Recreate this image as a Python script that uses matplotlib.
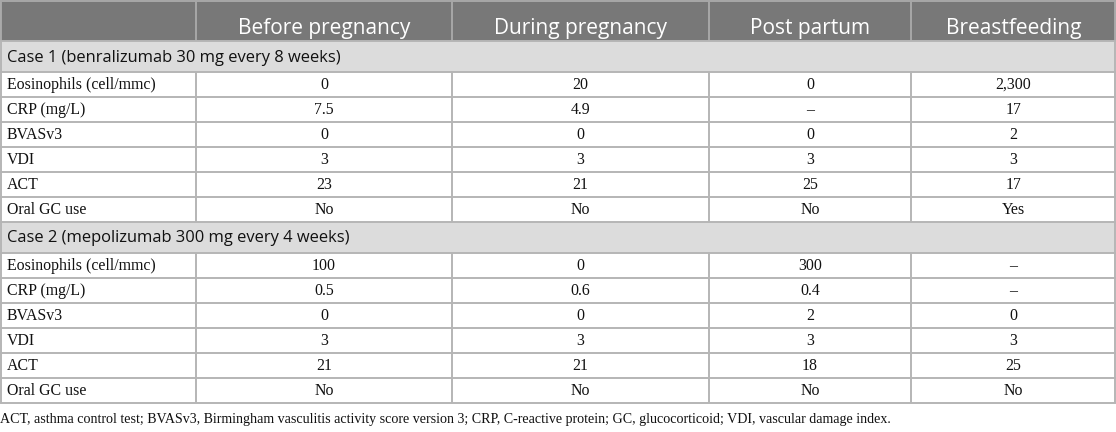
import matplotlib
matplotlib.use("Agg")
import matplotlib.pyplot as plt
from matplotlib.patches import Rectangle

# ---------------- data ----------------
columns = ["Before pregnancy", "During pregnancy", "Post partum", "Breastfeeding"]
row_labels = ["Eosinophils (cell/mmc)", "CRP (mg/L)", "BVASv3", "VDI", "ACT", "Oral GC use"]

case1_title = "Case 1 (benralizumab 30 mg every 8 weeks)"
case1_values = [
    ["0", "20", "0", "2,300"],
    ["7.5", "4.9", "\u2013", "17"],
    ["0", "0", "0", "2"],
    ["3", "3", "3", "3"],
    ["23", "21", "25", "17"],
    ["No", "No", "No", "Yes"],
]

case2_title = "Case 2 (mepolizumab 300 mg every 4 weeks)"
case2_values = [
    ["100", "0", "300", "\u2013"],
    ["0.5", "0.6", "0.4", "\u2013"],
    ["0", "0", "2", "0"],
    ["3", "3", "3", "3"],
    ["21", "21", "18", "25"],
    ["No", "No", "No", "No"],
]

footnote = ("ACT, asthma control test; BVASv3, Birmingham vasculitis activity score version 3; "
            "CRP, C-reactive protein; GC, glucocorticoid; VDI, vascular damage index.")

# ---------------- layout / style ----------------
W, H = 1116, 432
col_edges = [0, 196, 452, 709, 911, 1116]
header_h = 41
case_h = 31
row_h = 25

header_bg = "#787878"
case_bg = "#dcdcdc"
grid_c = "#b5b5b5"
header_sep = "#a8a8a8"
text_c = "#111111"
sans = ["Open Sans", "DejaVu Sans"]
serif = ["Liberation Serif", "DejaVu Serif"]

fig = plt.figure(figsize=(W / 100, H / 100), dpi=100)
ax = fig.add_axes([0, 0, 1, 1])
ax.set_xlim(0, W)
ax.set_ylim(H, 0)
ax.axis("off")

lw = 1.4
x0, x1 = col_edges[0] + 0.7, col_edges[-1] - 0.7
xs = [x0] + col_edges[1:-1] + [x1]

# header
ax.add_patch(Rectangle((x0, 0), x1 - x0, header_h, facecolor=header_bg, edgecolor="none"))
for i, name in enumerate(columns):
    cx = (col_edges[i + 1] + col_edges[i + 2]) / 2
    ax.text(cx, 34, name, ha="center", va="baseline", color="white",
            fontsize=15, family=sans)
for xe in xs:
    ax.plot([xe, xe], [0, header_h], color=header_sep, lw=lw, solid_capstyle="butt")
ax.plot([x0, x1], [0.7, 0.7], color=header_sep, lw=lw)

y = header_h
for title, values in [(case1_title, case1_values), (case2_title, case2_values)]:
    ax.add_patch(Rectangle((x0, y), x1 - x0, case_h, facecolor=case_bg, edgecolor="none"))
    ax.text(7, y + case_h / 2 + 1, title, ha="left", va="center", color=text_c,
            fontsize=11.9, family=sans)
    ax.plot([x0, x1], [y, y], color=grid_c, lw=lw)
    ax.plot([x0, x0], [y, y + case_h], color=grid_c, lw=lw)
    ax.plot([x1, x1], [y, y + case_h], color=grid_c, lw=lw)
    y += case_h
    for label, vals in zip(row_labels, values):
        ax.plot([x0, x1], [y, y], color=grid_c, lw=lw)
        for xe in xs:
            ax.plot([xe, xe], [y, y + row_h], color=grid_c, lw=lw, solid_capstyle="butt")
        cy = y + row_h / 2 + 0.5
        ax.text(7, cy, label, ha="left", va="center", color=text_c, fontsize=11.4, family=serif)
        for j, v in enumerate(vals):
            cx = (col_edges[j + 1] + col_edges[j + 2]) / 2
            ax.text(cx, cy, v, ha="center", va="center", color=text_c, fontsize=11.4, family=serif)
        y += row_h
ax.plot([x0, x1], [y, y], color=grid_c, lw=lw)

ax.text(0, 420, footnote, ha="left", va="center", color=text_c, fontsize=10.1, family=serif)

fig.savefig("out.png", dpi=100, facecolor="white")
